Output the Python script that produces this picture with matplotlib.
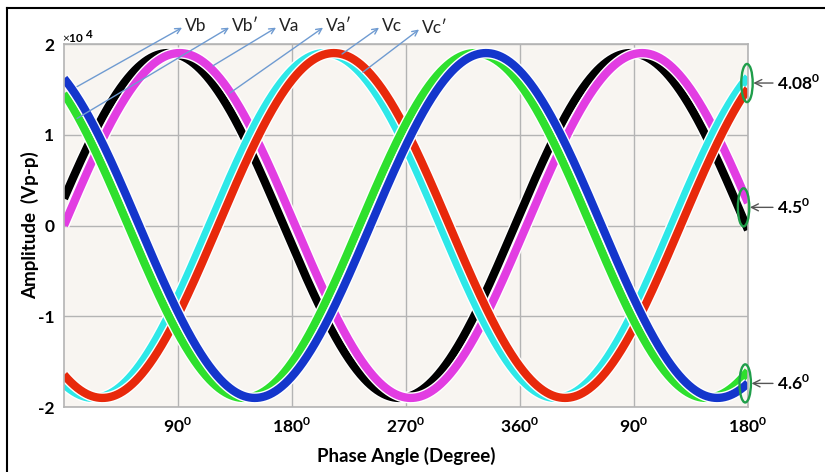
import numpy as np
import matplotlib
matplotlib.use('Agg')
import matplotlib.pyplot as plt
import matplotlib.patheffects as pe
from matplotlib.patches import Ellipse
from matplotlib.lines import Line2D

plt.rcParams['font.family'] = ['Lato', 'DejaVu Sans']
plt.rcParams['mathtext.fontset'] = 'custom'
plt.rcParams['mathtext.rm'] = 'Lato'
plt.rcParams['mathtext.bf'] = 'Lato:bold'

# waveform readings (amplitude in x10^4 Vp-p, phase at left edge in degrees)
names = ["Va'", "Va", "Vc'", "Vc", "Vb'", "Vb"]
colors = ['#000000', '#e23de2', '#2ee8e8', '#e8290b', '#2ee02e', '#1436cc']
amplitude = [1.90, 1.90, 1.90, 1.90, 1.90, 1.90]
start_phase = [9.0, 0.0, -113.0, -120.0, 130.0, 121.5]
phase_rate = 0.986   # phase travelled per plotted degree

xticks = [90, 180, 270, 360, 450, 540]
xticklabels = ['90', '180', '270', '360', '90', '180']
yticks = [-2, -1, 0, 1, 2]

# phase differences marked at the right end
end_labels = ['4.08', '4.5', '4.6']
end_y = [1.57, 0.20, -1.74]

angle = np.linspace(0, 540, 1081)

fig = plt.figure(figsize=(8.25, 4.72), dpi=100)
ax = fig.add_axes([64/825, 65/472, 684/825, 363/472])
ax.set_facecolor('#f8f5f1')

for name, c, a, p in zip(names, colors, amplitude, start_phase):
    v = a*np.sin(np.radians(phase_rate*angle + p))
    ax.plot(angle, v, color=c, lw=6.0, solid_capstyle='butt',
            path_effects=[pe.Stroke(linewidth=8.0, foreground='white'), pe.Normal()])

ax.set_xlim(0, 540)
ax.set_ylim(-2, 2)
ax.set_xticks(xticks)
ax.set_xticklabels([t + r'$^\mathbf{0}$' for t in xticklabels], fontweight='bold', fontsize=12.5)
ax.set_yticks(yticks)
ax.set_yticklabels([str(t) for t in yticks], fontweight='bold', fontsize=12.5)
ax.tick_params(length=0)
ax.tick_params(axis='x', pad=7)
ax.tick_params(axis='y', pad=7)
ax.grid(True, color='#b4b4b4', lw=1)
ax.set_axisbelow(True)
for s in ax.spines.values():
    s.set_color('#b4b4b4')
    s.set_linewidth(1.2)

ax.set_xlabel('Phase Angle (Degree)', fontweight='bold', fontsize=13.5, labelpad=8)
ax.set_ylabel('Amplitude  (Vp-p)', fontweight='bold', fontsize=13.5, labelpad=-1)

# exponent text
ax.text(-1.8, 2.066, r'$\times$10', fontsize=8.5, fontweight='bold', ha='left', va='center', clip_on=False)
ax.text(16.5, 2.10, '4', fontsize=8.5, fontweight='bold', ha='left', va='center', clip_on=False)

# labels with arrows pointing from curves
tails = [(10.3, 1.53), (10.3, 1.18), (117.6, 1.76), (131.0, 1.46), (219.5, 1.89), (236.0, 1.69)]
heads = [(93.2, 2.18), (130.3, 2.18), (167.4, 2.18), (204.5, 2.18), (248.7, 2.18), (280.3, 2.16)]
top_labels = ['Vb', "Vb\u2032", 'Va', "Va\u2032", 'Vc', "Vc\u2032"]
for t, h, lab in zip(tails, heads, top_labels):
    ax.annotate('', xy=h, xytext=t, annotation_clip=False,
                arrowprops=dict(arrowstyle='->', color='#6f9bd1', lw=1, shrinkA=0, shrinkB=0))
    ax.text(h[0] + 2, h[1] + 0.02, lab, fontsize=12.5, color='#222222', ha='left', va='center', clip_on=False)

# ellipses and phase-shift labels on the right
for lab, yv, xc in zip(end_labels, end_y, [539.2, 536.5, 537.8]):
    ax.add_patch(Ellipse((xc, yv), 9, 0.42, fill=False, ec='#1f9e4a', lw=1.7, clip_on=False, zorder=5))
    ax.annotate(lab + r'$^\mathbf{0}$', xy=(xc + 5, yv), xytext=(563, yv), annotation_clip=False,
                fontsize=12.5, fontweight='bold', ha='left', va='center',
                arrowprops=dict(arrowstyle='->', color='#555555', lw=1, shrinkA=1, shrinkB=0))

# outer frame (left and top)
fig.add_artist(Line2D([7/825, 7/825], [0, 1 - 8/472], color='black', lw=1.5))
fig.add_artist(Line2D([7/825, 1], [1 - 8/472, 1 - 8/472], color='black', lw=1.5))

fig.savefig('out.png', dpi=100)
